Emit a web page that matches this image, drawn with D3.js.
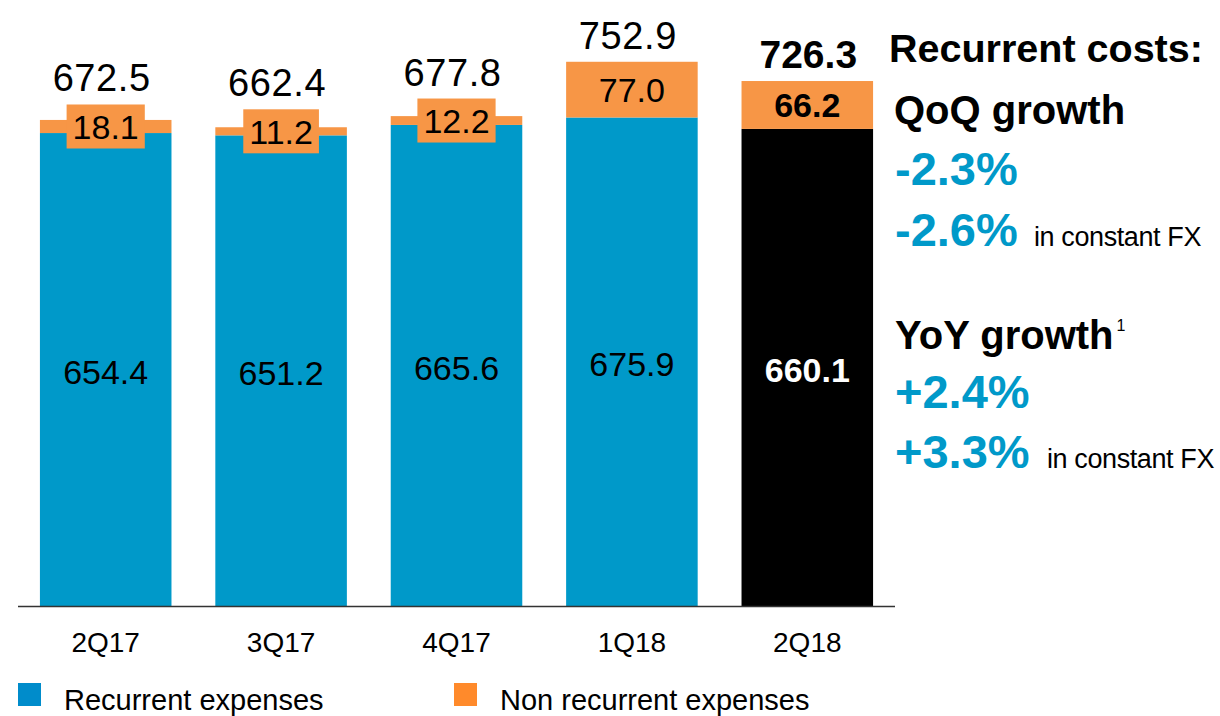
<!DOCTYPE html>
<html>
<head>
<meta charset="utf-8">
<script src="https://cdn.jsdelivr.net/npm/d3@7"></script>
<style>
  body { margin: 0; background: #fff; }
  svg { display: block; font-family: "Liberation Sans", Arial, sans-serif; }
</style>
</head>
<body>
<div id="chart"></div>
<script>
// data
var quarters = ["2Q17", "3Q17", "4Q17", "1Q18", "2Q18"];
var recurrent = [654.4, 651.2, 665.6, 675.9, 660.1];
var nonRecurrent = [18.1, 11.2, 12.2, 77.0, 66.2];
var highlight = "2Q18";

var legendLabels = ["Recurrent expenses", "Non recurrent expenses"];

var blue = "#0099C9";
var orange = "#F79646";

var svgWidth = 1220;
var svgHeight = 716;
var baseY = 606.5;

var data = quarters.map((q, i) => ({
    q: q,
    rec: recurrent[i],
    non: nonRecurrent[i],
    total: recurrent[i] + nonRecurrent[i]
}));

var svg = d3.select("#chart")
    .append("svg")
    .attr("width", svgWidth)
    .attr("height", svgHeight);

// scales
var x = d3.scaleBand()
    .domain(quarters)
    .range([18, 895])
    .paddingInner(0.25)
    .paddingOuter(0.125);

var y = d3.scaleLinear()
    .domain([0, 800])
    .range([baseY, baseY - 800 * 0.7235]);

var fmt = d3.format(".1f");

// recurrent segment
svg.selectAll("rect.rec")
    .data(data)
    .enter()
    .append("rect")
    .attr("class", "rec")
    .attr("x", d => x(d.q))
    .attr("width", x.bandwidth())
    .attr("y", d => y(d.rec))
    .attr("height", d => y(0) - y(d.rec))
    .attr("fill", d => d.q === highlight ? "#000" : blue);

// non recurrent segment
svg.selectAll("rect.non")
    .data(data)
    .enter()
    .append("rect")
    .attr("class", "non")
    .attr("x", d => x(d.q))
    .attr("width", x.bandwidth())
    .attr("y", d => y(d.total))
    .attr("height", d => y(d.rec) - y(d.total))
    .attr("fill", orange);

// boxes behind small segment labels
var boxH = 44;
data.forEach(d => {
    var segH = y(d.rec) - y(d.total);
    var mid = (y(d.rec) + y(d.total)) / 2;
    d.mid = mid;
    d.boxTop = segH < boxH ? mid - boxH / 2 : y(d.total);
});

var g = svg.selectAll("g.lab")
    .data(data)
    .enter()
    .append("g")
    .attr("class", "lab");

g.each(function (d) {
    var el = d3.select(this);
    var cx = x(d.q) + x.bandwidth() / 2;
    var hi = d.q === highlight;
    var bold = hi ? "bold" : "normal";
    var segH = y(d.rec) - y(d.total);

    var t = el.append("text")
        .attr("x", cx)
        .attr("y", d.mid)
        .attr("dy", "0.36em")
        .attr("text-anchor", "middle")
        .attr("font-size", 34)
        .attr("font-weight", bold)
        .attr("fill", "#000")
        .text(fmt(d.non));

    if (segH < boxH) {
        var w = t.node().getComputedTextLength() + 12;
        el.insert("rect", "text")
            .attr("x", cx - w / 2)
            .attr("y", d.mid - boxH / 2)
            .attr("width", w)
            .attr("height", boxH)
            .attr("fill", orange);
    }

    // recurrent label in the middle of the bar
    el.append("text")
        .attr("x", cx)
        .attr("y", (y(d.rec) + y(0)) / 2 + 2)
        .attr("dy", "0.36em")
        .attr("text-anchor", "middle")
        .attr("font-size", 34)
        .attr("font-weight", bold)
        .attr("fill", hi ? "#fff" : "#000")
        .text(fmt(d.rec));

    // total on top
    el.append("text")
        .attr("x", hi ? cx + 1 : cx - 4)
        .attr("y", Math.min(d.boxTop, y(d.total)) - 13)
        .attr("text-anchor", "middle")
        .attr("font-size", hi ? 39 : 38)
        .attr("letter-spacing", hi ? 0 : 0.6)
        .attr("font-weight", bold)
        .attr("fill", "#000")
        .text(fmt(d.total));
});

// x axis
var xAxis = svg.append("g")
    .attr("transform", `translate(0, ${baseY})`)
    .call(d3.axisBottom(x).tickSize(0).tickPadding(0).tickSizeOuter(0));
xAxis.select(".domain")
    .attr("d", "M18,0H895")
    .attr("stroke", "#333")
    .attr("stroke-width", 1.3);
xAxis.selectAll("text")
    .attr("font-family", "Liberation Sans, Arial, sans-serif")
    .attr("font-size", 28)
    .attr("fill", "#000")
    .attr("dy", null)
    .attr("y", 45);

// legend
var legend = svg.append("g");
var legendX = [18, 454];
var legendCol = ["#008CCB", "#FF8A2B"];
legendLabels.forEach((lab, i) => {
    legend.append("rect")
        .attr("x", legendX[i])
        .attr("y", 683)
        .attr("width", 23)
        .attr("height", 23)
        .attr("fill", legendCol[i]);
    legend.append("text")
        .attr("x", legendX[i] + 46)
        .attr("y", 710)
        .attr("font-size", 29)
        .attr("fill", "#000")
        .text(lab);
});

// commentary on the right
var side = svg.append("g");
side.append("text").attr("x", 889).attr("y", 62)
    .attr("font-size", 39.5).attr("font-weight", "bold").text("Recurrent costs:");
side.append("text").attr("x", 894).attr("y", 124)
    .attr("font-size", 40).attr("font-weight", "bold").text("QoQ growth");
side.append("text").attr("x", 895).attr("y", 185)
    .attr("font-size", 47).attr("font-weight", "bold").attr("fill", blue).text("-2.3%");
side.append("text").attr("x", 895).attr("y", 246)
    .attr("font-size", 47).attr("font-weight", "bold").attr("fill", blue).text("-2.6%");
side.append("text").attr("x", 1034).attr("y", 246)
    .attr("font-size", 27).attr("letter-spacing", -0.4).text("in constant FX");

var yoy = side.append("text").attr("x", 895).attr("y", 349)
    .attr("font-size", 40).attr("font-weight", "bold");
yoy.append("tspan").text("YoY growth");
yoy.append("tspan").attr("font-size", 16).attr("font-weight", "normal")
    .attr("dx", 3).attr("dy", -18).text("1");

side.append("text").attr("x", 895).attr("y", 408)
    .attr("font-size", 47).attr("font-weight", "bold").attr("fill", blue).text("+2.4%");
side.append("text").attr("x", 895).attr("y", 468)
    .attr("font-size", 47).attr("font-weight", "bold").attr("fill", blue).text("+3.3%");
side.append("text").attr("x", 1047).attr("y", 468)
    .attr("font-size", 27).attr("letter-spacing", -0.4).text("in constant FX");
</script>
</body>
</html>
